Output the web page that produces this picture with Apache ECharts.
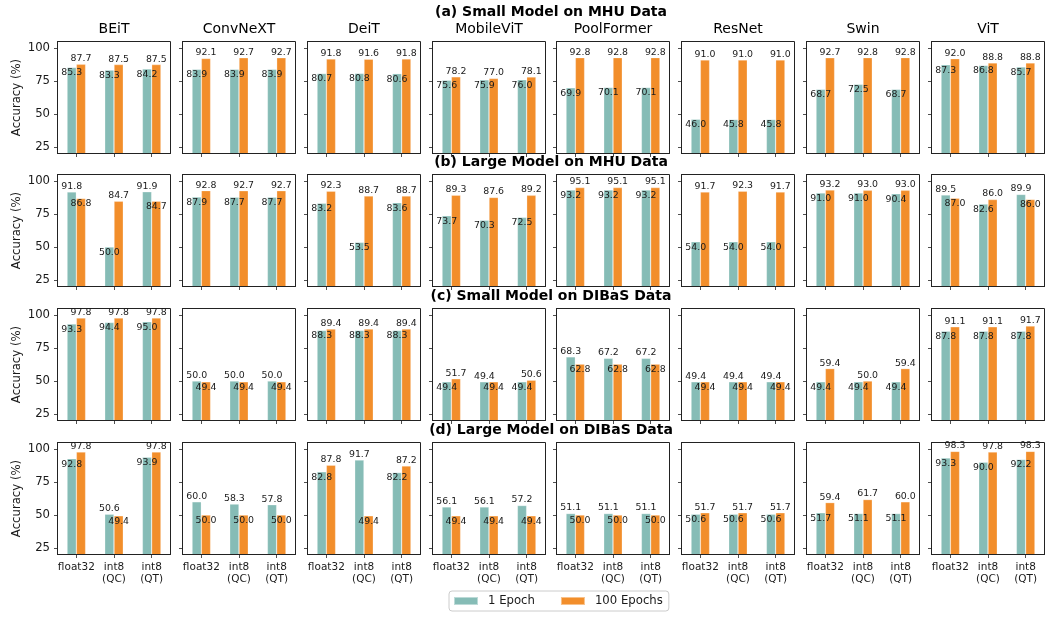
<!DOCTYPE html>
<html>
<head>
<meta charset="utf-8">
<script src="https://cdn.jsdelivr.net/npm/echarts@6/dist/echarts.min.js"></script>
<style>
  html, body { margin: 0; padding: 0; background: #fff; }
  #chart { width: 1051px; height: 617px; }
</style>
</head>
<body>
<div id="chart"></div>
<script>
// Models (columns), precision variants (x categories), panel headings (rows)
const models = ['BEiT', 'ConvNeXT', 'DeiT', 'MobileViT', 'PoolFormer', 'ResNet', 'Swin', 'ViT'];
const precisions = ['float32', 'int8\n(QC)', 'int8\n(QT)'];
const panelTitles = [
  '(a) Small Model on MHU Data',
  '(b) Large Model on MHU Data',
  '(c) Small Model on DIBaS Data',
  '(d) Large Model on DIBaS Data'
];
const seriesNames = ['1 Epoch', '100 Epochs'];
const yTicks = [25, 50, 75, 100];

// Accuracy (%) per model: [float32, int8 (QC), int8 (QT)]
const smallMhu1 = [[85.3, 83.3, 84.2], [83.9, 83.9, 83.9], [80.7, 80.8, 80.6], [75.6, 75.9, 76.0],
                   [69.9, 70.1, 70.1], [46.0, 45.8, 45.8], [68.7, 72.5, 68.7], [87.3, 86.8, 85.7]];
const smallMhu100 = [[87.7, 87.5, 87.5], [92.1, 92.7, 92.7], [91.8, 91.6, 91.8], [78.2, 77.0, 78.1],
                     [92.8, 92.8, 92.8], [91.0, 91.0, 91.0], [92.7, 92.8, 92.8], [92.0, 88.8, 88.8]];
const largeMhu1 = [[91.8, 50.0, 91.9], [87.9, 87.7, 87.7], [83.2, 53.5, 83.6], [73.7, 70.3, 72.5],
                   [93.2, 93.2, 93.2], [54.0, 54.0, 54.0], [91.0, 91.0, 90.4], [89.5, 82.6, 89.9]];
const largeMhu100 = [[86.8, 84.7, 84.7], [92.8, 92.7, 92.7], [92.3, 88.7, 88.7], [89.3, 87.6, 89.2],
                     [95.1, 95.1, 95.1], [91.7, 92.3, 91.7], [93.2, 93.0, 93.0], [87.0, 86.0, 86.0]];
const smallDibas1 = [[93.3, 94.4, 95.0], [50.0, 50.0, 50.0], [88.3, 88.3, 88.3], [49.4, 49.4, 49.4],
                     [68.3, 67.2, 67.2], [49.4, 49.4, 49.4], [49.4, 49.4, 49.4], [87.8, 87.8, 87.8]];
const smallDibas100 = [[97.8, 97.8, 97.8], [49.4, 49.4, 49.4], [89.4, 89.4, 89.4], [51.7, 49.4, 50.6],
                       [62.8, 62.8, 62.8], [49.4, 49.4, 49.4], [59.4, 50.0, 59.4], [91.1, 91.1, 91.7]];
const largeDibas1 = [[92.8, 50.6, 93.9], [60.0, 58.3, 57.8], [82.8, 91.7, 82.2], [56.1, 56.1, 57.2],
                     [51.1, 51.1, 51.1], [50.6, 50.6, 50.6], [51.7, 51.1, 51.1], [93.3, 90.0, 92.2]];
const largeDibas100 = [[97.8, 49.4, 97.8], [50.0, 50.0, 50.0], [87.8, 49.4, 87.2], [49.4, 49.4, 49.4],
                       [50.0, 50.0, 50.0], [51.7, 51.7, 51.7], [59.4, 61.7, 60.0], [98.3, 97.8, 98.3]];

const rowData = [
  [smallMhu1, smallMhu100],
  [largeMhu1, largeMhu100],
  [smallDibas1, smallDibas100],
  [largeDibas1, largeDibas100]
];

// ---- layout of the 4 x 8 panel grid (half-pixel offsets keep 1px frames crisp) ----
const FONT = '"DejaVu Sans", "Liberation Sans", sans-serif';
const COLORS = ['#86BCB6', '#F28E2B'];
const LINE = '#222222';
const LEFT0 = 57, STEP_X = 124.85, PANEL_W = 113;
const ROW_TOPS = [41, 174, 308, 442], PANEL_H = 112;
const ROW_TITLE_Y = [12.5, 162.3, 296.0, 430.8];
const panelLeft = c => Math.round(LEFT0 + c * STEP_X) + 0.5;

const grids = [], xAxes = [], yAxes = [], series = [], graphics = [];

panelTitles.forEach((t, r) => {
  graphics.push({
    type: 'text', x: (panelLeft(0) + panelLeft(7) + PANEL_W) / 2, y: ROW_TITLE_Y[r],
    style: { text: t, fontFamily: FONT, fontSize: 14, fontWeight: 'bold', fill: '#000',
             align: 'center', verticalAlign: 'middle' }
  });
});
models.forEach((m, c) => {
  graphics.push({
    type: 'text', x: panelLeft(c) + PANEL_W / 2, y: 29.0,
    style: { text: m, fontFamily: FONT, fontSize: 14, fill: '#000',
             align: 'center', verticalAlign: 'middle' }
  });
});

const fmt = p => Number(p.value).toFixed(1);

rowData.forEach(([one, hundred], r) => {
  models.forEach((m, c) => {
    const idx = grids.length;
    grids.push({
      left: panelLeft(c), top: ROW_TOPS[r] + 0.5, width: PANEL_W, height: PANEL_H,
      show: true, borderColor: LINE, borderWidth: 1, backgroundColor: 'transparent'
    });
    xAxes.push({
      type: 'category', gridIndex: idx, data: precisions, z: 5,
      axisLine: { show: true, lineStyle: { color: LINE, width: 1 } },
      axisTick: { show: true, alignWithLabel: true, length: 3.5, lineStyle: { color: LINE, width: 0.8 } },
      axisLabel: { show: r === 3, interval: 0, margin: 7, fontFamily: FONT, fontSize: 10.5,
                   lineHeight: 12, color: '#1a1a1a' },
      splitLine: { show: false }
    });
    yAxes.push({
      type: 'value', gridIndex: idx, min: 20, max: 105, z: 5,
      name: c === 0 ? 'Accuracy (%)' : '', nameLocation: 'middle', nameRotate: 90, nameGap: 35,
      nameTextStyle: { fontFamily: FONT, fontSize: 11.7, color: '#1a1a1a' },
      axisLine: { show: true, lineStyle: { color: LINE, width: 1 } },
      axisTick: { show: true, length: 3.5, customValues: yTicks, lineStyle: { color: LINE, width: 0.8 } },
      axisLabel: { show: c === 0, customValues: yTicks, margin: 7.5, fontFamily: FONT, fontSize: 11.7, color: '#1a1a1a' },
      splitLine: { show: false }
    });
    const a = one[c], b = hundred[c];
    [a, b].forEach((vals, k) => {
      const other = k === 0 ? b : a;
      series.push({
        type: 'bar', name: seriesNames[k], xAxisIndex: idx, yAxisIndex: idx,
        barWidth: 9.3, barGap: '0%', clip: true,
        itemStyle: { color: COLORS[k], borderColor: 'rgba(255,255,255,0.45)', borderWidth: 0.6 },
        label: { show: true, formatter: fmt, fontFamily: FONT, fontSize: 9.4, color: '#1a1a1a' },
        labelLayout: { hideOverlap: false },
        data: vals.map((v, i) => {
          // the taller bar of a pair (1 Epoch on ties) is labelled above its top, the other just inside
          const above = k === 0 ? v >= other[i] : v > other[i];
          return { value: v, label: { position: above ? 'top' : 'insideTop', distance: 1 } };
        })
      });
    });
  });
});

const chart = echarts.init(document.getElementById('chart'), null, { renderer: 'canvas' });
chart.setOption({
  animation: false,
  backgroundColor: '#fff',
  grid: grids,
  xAxis: xAxes,
  yAxis: yAxes,
  series: series,
  graphic: graphics,
  legend: {
    data: seriesNames, left: 449, top: 591, orient: 'horizontal',
    icon: 'rect', itemWidth: 24, itemHeight: 8, itemGap: 25,
    padding: [4, 6, 4, 4], borderColor: '#cccccc', borderWidth: 1, borderRadius: 3,
    selectedMode: false,
    textStyle: { fontFamily: FONT, fontSize: 11.7, color: '#1a1a1a', padding: [0, 0, 0, 5] }
  }
});
</script>
</body>
</html>
